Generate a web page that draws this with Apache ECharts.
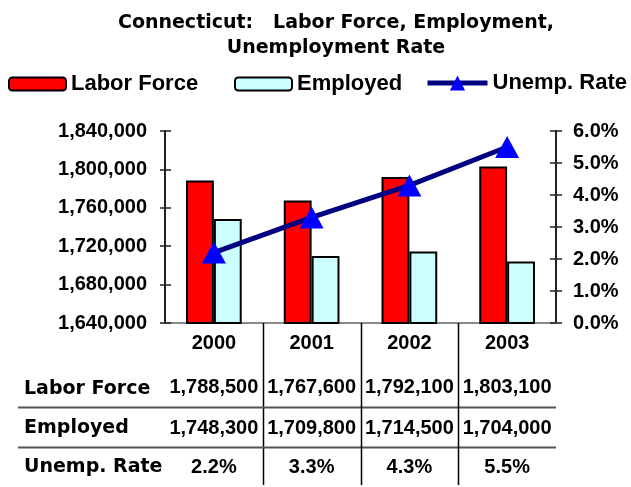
<!DOCTYPE html>
<html>
<head>
<meta charset="utf-8">
<script src="https://cdn.jsdelivr.net/npm/echarts@6/dist/echarts.min.js"></script>
<style>
  html, body { margin: 0; padding: 0; background: #fff; }
  #chart { width: 631px; height: 487px; }
</style>
</head>
<body>
<div id="chart"></div>
<script>
// Connecticut labour statistics, 2000-2003
const years = ['2000', '2001', '2002', '2003'];
const laborForce = [1788500, 1767600, 1792100, 1803100];
const employed = [1748300, 1709800, 1714500, 1704000];
const unempRate = [2.2, 3.3, 4.3, 5.5];
const rowLabels = ['Labor Force', 'Employed', 'Unemp. Rate'];

const LIB = '"Liberation Sans", Arial, Helvetica, sans-serif';
const DJV = '"DejaVu Sans", "Liberation Sans", sans-serif';
const fmtInt = v => Math.round(v).toLocaleString('en-US');
const fmtPct = v => v.toFixed(1) + '%';

const chart = echarts.init(document.getElementById('chart'), null, { renderer: 'canvas' });

// Data table drawn under the plot, one column per category
function renderTable(params, api) {
  const i = api.value(0);
  const base = api.coord([i, 1640000]);
  const cx = base[0];
  const axisY = base[1];
  const cellW = api.size([1, 0])[0];
  const children = [];
  const numStyle = { fontFamily: LIB, fontWeight: 'bold', fontSize: 20, fill: '#000', align: 'center', verticalAlign: 'middle' };
  const rowsY = [axisY + 64, axisY + 105, axisY + 144];
  const values = [fmtInt(api.value(1)), fmtInt(api.value(2)), fmtPct(api.value(3))];
  values.forEach((t, r) => {
    children.push({ type: 'text', style: Object.assign({ text: t, x: cx, y: rowsY[r] }, numStyle) });
  });
  if (i < years.length - 1) {
    const bx = Math.round(cx + cellW / 2) + 0.5;
    children.push({ type: 'line', shape: { x1: bx, y1: axisY, x2: bx, y2: axisY + 162 }, style: { stroke: '#000', lineWidth: 1.5 } });
  }
  if (i === 0) {
    const right = api.coord([years.length - 1, 1640000])[0] + cellW / 2;
    [axisY + 84.5, axisY + 124.5].forEach(y => {
      children.push({ type: 'line', shape: { x1: 18, y1: y, x2: right, y2: y }, style: { stroke: '#555', lineWidth: 2 } });
    });
    const labY = [axisY + 66, axisY + 105, axisY + 144];
    rowLabels.forEach((t, r) => {
      children.push({ type: 'text', style: { text: t, x: 24, y: labY[r], fontFamily: DJV, fontWeight: 'bold', fontSize: 19, fill: '#000', align: 'left', verticalAlign: 'middle' } });
    });
  }
  return { type: 'group', children };
}

const legendText = { fontFamily: LIB, fontWeight: 'bold', fontSize: 22, color: '#000' };

chart.setOption({
  animation: false,
  backgroundColor: '#fff',
  title: {
    text: 'Connecticut:   Labor Force, Employment,\nUnemployment Rate',
    left: 331,
    top: 6,
    textAlign: 'center',
    textStyle: { fontFamily: DJV, fontWeight: 'bold', fontSize: 19, lineHeight: 25, color: '#000' }
  },
  legend: [
    { left: 3, top: 68, data: ['Labor Force'], itemWidth: 57, itemHeight: 13, textStyle: legendText },
    { left: 229, top: 68, data: ['Employed'], itemWidth: 57, itemHeight: 13, textStyle: legendText },
    {
      left: 420, top: 67, data: ['Unemp. Rate'], itemWidth: 60, itemHeight: 19,
      lineStyle: { width: 5, color: '#000080' },
      itemStyle: { color: '#0000ff' },
      textStyle: legendText
    }
  ],
  grid: { left: 165, right: 75, top: 131, bottom: 164, containLabel: false },
  xAxis: [
    {
      type: 'category', data: years, position: 'bottom',
      axisLine: { lineStyle: { color: '#000', width: 2 } },
      axisTick: { show: false },
      axisLabel: { margin: 10, fontFamily: LIB, fontWeight: 'bold', fontSize: 20, color: '#000' }
    },
    {
      type: 'category', data: years, position: 'top',
      axisLine: { lineStyle: { color: '#8a8a8a', width: 2 } },
      axisTick: { show: false }, axisLabel: { show: false }
    }
  ],
  yAxis: [
    {
      type: 'value', position: 'left', min: 1640000, max: 1840000, interval: 40000,
      axisLine: { show: true, lineStyle: { color: '#222', width: 2 } },
      axisTick: { show: true, length: 5, lineStyle: { color: '#222', width: 1.5 } },
      axisLabel: { margin: 18, formatter: fmtInt, fontFamily: LIB, fontWeight: 'bold', fontSize: 20, color: '#000' },
      splitLine: { show: false }
    },
    {
      type: 'value', position: 'right', min: 0, max: 6, interval: 1,
      axisLine: { show: true, lineStyle: { color: '#222', width: 2 } },
      axisTick: { show: true, length: 6, lineStyle: { color: '#222', width: 1.5 } },
      axisLabel: { margin: 17, formatter: fmtPct, fontFamily: LIB, fontWeight: 'bold', fontSize: 20, color: '#000' },
      splitLine: { show: false }
    },
    {
      type: 'value', position: 'left', min: 1640000, max: 1840000, interval: 40000,
      axisLine: { show: false },
      axisTick: { show: true, inside: true, length: 6, lineStyle: { color: '#222', width: 1.5 } },
      axisLabel: { show: false }, splitLine: { show: false }
    },
    {
      type: 'value', position: 'right', min: 0, max: 6, interval: 1,
      axisLine: { show: false },
      axisTick: { show: true, inside: true, length: 6, lineStyle: { color: '#222', width: 1.5 } },
      axisLabel: { show: false }, splitLine: { show: false }
    }
  ],
  series: [
    {
      name: 'Labor Force', type: 'bar', data: laborForce,
      xAxisIndex: 0, yAxisIndex: 0,
      barGap: '0%', barCategoryGap: '43%',
      itemStyle: { color: '#ff0000', borderColor: '#000', borderWidth: 2 }
    },
    {
      name: 'Employed', type: 'bar', data: employed,
      xAxisIndex: 0, yAxisIndex: 0,
      barGap: '0%', barCategoryGap: '43%',
      itemStyle: { color: '#ccffff', borderColor: '#000', borderWidth: 2 }
    },
    {
      name: 'Unemp. Rate', type: 'line', data: unempRate,
      xAxisIndex: 0, yAxisIndex: 1, z: 5,
      symbol: 'triangle', symbolSize: [24, 22],
      lineStyle: { color: '#000080', width: 5 },
      itemStyle: { color: '#0000ff' }
    },
    {
      name: 'table', type: 'custom',
      xAxisIndex: 0, yAxisIndex: 0, clip: false, silent: true,
      data: years.map((_, i) => [i, laborForce[i], employed[i], unempRate[i]]),
      encode: { x: 0, y: 1 },
      renderItem: renderTable
    }
  ]
});
</script>
</body>
</html>
